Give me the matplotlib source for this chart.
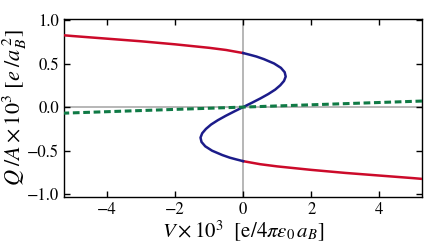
import numpy as np
import matplotlib
matplotlib.use("Agg")
import matplotlib.pyplot as plt

plt.rcParams['font.family'] = 'STIXGeneral'
plt.rcParams['mathtext.fontset'] = 'stix'

# -------- data --------
# blue S-branch, V as a function of Q
q_blue = [0.62, 0.61, 0.60, 0.58, 0.55, 0.50, 0.45, 0.40, 0.35, 0.30, 0.25, 0.20,
          0.15, 0.10, 0.05, 0.0, -0.05, -0.10, -0.15, -0.20, -0.25, -0.30, -0.35,
          -0.40, -0.45, -0.50, -0.55, -0.58, -0.60, -0.61, -0.62]
v_blue = [0.0, 0.10, 0.20, 0.39, 0.61, 0.91, 1.11, 1.22, 1.25, 1.20, 1.09, 0.94,
          0.74, 0.51, 0.26, 0.0, -0.26, -0.51, -0.74, -0.94, -1.09, -1.20, -1.25,
          -1.22, -1.11, -0.91, -0.61, -0.39, -0.20, -0.10, 0.0]

# red stable branches
v_red_up = [-5.3, -5.0, -4.0, -3.0, -2.0, -1.0, -0.5, 0.0]
q_red_up = [0.825, 0.815, 0.785, 0.755, 0.72, 0.68, 0.655, 0.62]
v_red_lo = [0.0, 0.5, 1.0, 2.0, 3.0, 4.0, 5.0, 5.3]
q_red_lo = [-0.62, -0.655, -0.68, -0.72, -0.755, -0.785, -0.815, -0.825]

# green dashed linear response
v_green = [-5.3, 5.3]
q_green = [-0.07, 0.07]

xticks = [-4, -2, 0, 2, 4]
yticks = [-1.0, -0.5, 0.0, 0.5, 1.0]

# -------- plot --------
fig = plt.figure(figsize=(4.25, 2.44), dpi=100)
ax = fig.add_axes([0.151, 0.193, 0.842, 0.729])

ax.axhline(0, color='#aaaaaa', lw=1.2, zorder=1)
ax.axvline(0, color='#aaaaaa', lw=1.2, zorder=1)

ax.plot(v_red_up, q_red_up, color='#cc0a2a', lw=1.8, zorder=3)
ax.plot(v_red_lo, q_red_lo, color='#cc0a2a', lw=1.8, zorder=3)
ax.plot(v_blue, q_blue, color='#1c1c8a', lw=1.8, zorder=3)
ax.plot(v_green, q_green, color='#0f7a45', lw=2.2, ls=(0, (2.2, 1.2)), zorder=4)

ax.set_xlim(-5.25, 5.25)
ax.set_ylim(-1.03, 1.01)
ax.set_xticks(xticks)
ax.set_yticks(yticks)
ax.tick_params(direction='in', top=True, right=True, labelsize=12, length=4.5, width=1)
for s in ax.spines.values():
    s.set_linewidth(1.0)

ax.set_xlabel(r'$V \times 10^3$  [e/4$\pi\epsilon_0\, a_B$]', fontsize=15, labelpad=0)
ax.set_ylabel(r'$Q\;/A \times 10^3$ $[e\;/a_B^{\,2}]$', fontsize=16)
ax.yaxis.set_label_coords(-0.098, 0.5)

fig.savefig('out.png', dpi=100)
